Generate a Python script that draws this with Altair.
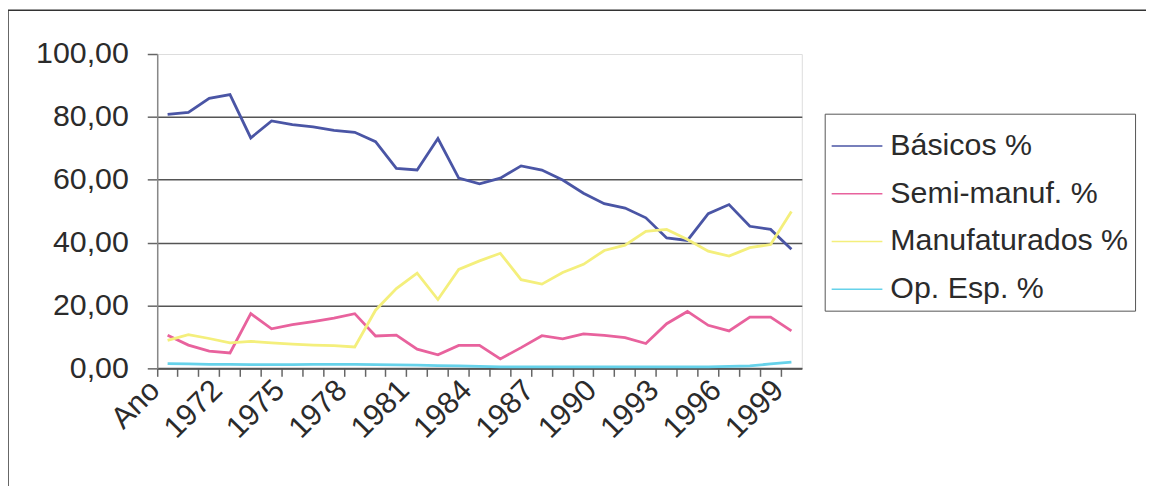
import altair as alt
import pandas as pd

categorias = ["Ano", "1970", "1971", "1972", "1973", "1974", "1975", "1976", "1977",
              "1978", "1979", "1980", "1981", "1982", "1983", "1984", "1985", "1986",
              "1987", "1988", "1989", "1990", "1991", "1992", "1993", "1994", "1995",
              "1996", "1997", "1998", "1999"]

basicos = [80.8, 81.4, 85.9, 87.1, 73.3, 78.7, 77.5, 76.8, 75.7, 75.1, 72.1, 63.6, 63.1,
           73.1, 60.5, 58.7, 60.5, 64.4, 63.1, 59.9, 55.7, 52.4, 51.0, 47.9, 41.5, 40.7,
           49.2, 52.1, 45.2, 44.2, 37.9]
semi = [10.5, 7.4, 5.5, 4.9, 17.4, 12.6, 13.9, 14.9, 16.0, 17.4, 10.3, 10.6, 6.1, 4.3,
        7.3, 7.3, 3.0, 6.6, 10.4, 9.4, 11.0, 10.5, 9.8, 7.9, 14.2, 18.1, 13.7, 11.9,
        16.3, 16.3, 11.9]
manuf = [8.9, 10.7, 9.5, 8.1, 8.6, 8.1, 7.7, 7.4, 7.2, 6.8, 18.5, 25.4, 30.3, 21.9, 31.5,
         34.2, 36.6, 28.2, 26.8, 30.5, 33.1, 37.5, 39.2, 43.6, 44.2, 41.0, 37.3, 35.7,
         38.4, 39.4, 49.9]
op_esp = [1.5, 1.4, 1.3, 1.3, 1.2, 1.2, 1.2, 1.3, 1.3, 1.3, 1.2, 1.1, 1.0, 0.9, 0.8, 0.6,
          0.5, 0.5, 0.5, 0.5, 0.5, 0.5, 0.5, 0.5, 0.5, 0.5, 0.5, 0.6, 0.8, 1.4, 2.0]

series_names = ["Básicos %", "Semi-manuf. %", "Manufaturados %", "Op. Esp. %"]
series_colors = ["#4a55a5", "#e8629d", "#f4ef7c", "#66d2ea"]
series_values = [basicos, semi, manuf, op_esp]

rows = []
for name, vals in zip(series_names, series_values):
    for c, v in zip(categorias, vals):
        rows.append({"cat": c, "serie": name, "valor": v})
df = pd.DataFrame(rows)

FONT = "Liberation Sans"
FS = 30.5
W, H = 648, 316
STEP = W / len(categorias)

lines = alt.Chart(df).mark_line(strokeWidth=2.8).encode(
    x=alt.X("cat:O", sort=categorias, title=None,
            scale=alt.Scale(type="band", paddingInner=0, paddingOuter=0),
            axis=alt.Axis(
                bandPosition=0,
                labelExpr="datum.value == 'Ano' || (toNumber(datum.value) - 1969) % 3 == 0 ? datum.value : ''",
                labelAngle=-45, labelAlign="right", labelBaseline="middle",
                labelOffset=STEP / 2 - 23, labelPadding=9,
                labelOverlap=False, labelFlush=False, labelBound=False,
                labelFont=FONT, labelFontSize=FS, labelColor="#2b2b2b",
                ticks=True, tickSize=8, tickColor="#666", tickWidth=1.5,
                domainColor="#555", domainWidth=2, grid=False)),
    y=alt.Y("valor:Q", title=None,
            scale=alt.Scale(domain=[0, 100], nice=False),
            axis=alt.Axis(
                values=[0, 20, 40, 60, 80, 100],
                labelExpr="replace(format(datum.value, '.2f'), '.', ',')",
                labelFont=FONT, labelFontSize=FS, labelColor="#2b2b2b",
                labelPadding=19, tickSize=10, tickColor="#666", tickWidth=1.5,
                domainColor="#888", domainWidth=1.5,
                grid=True,
                gridColor={"condition": {"test": "datum.value === 100", "value": "transparent"},
                           "value": "#555"},
                gridWidth=1.5)),
    color=alt.Color("serie:N", sort=series_names,
                    scale=alt.Scale(domain=series_names, range=series_colors),
                    legend=alt.Legend(
                        title=None, orient="none", legendX=671, legendY=60,
                        symbolType="stroke", symbolSize=2601, symbolStrokeWidth=1.5,
                        labelFont=FONT, labelFontSize=FS, labelColor="#2b2b2b",
                        labelLimit=0, labelOffset=7, rowPadding=6, padding=6,
                        strokeColor="#555", fillColor="white")),
)

frame_df = pd.DataFrame({"k": [0]})
frame_left = alt.Chart(frame_df).mark_rule(stroke="#333", strokeWidth=1.5).encode(
    x=alt.value(-150), y=alt.value(-44), y2=alt.value(600))
frame_top = alt.Chart(frame_df).mark_rule(stroke="#333", strokeWidth=1.5).encode(
    x=alt.value(-150), x2=alt.value(1200), y=alt.value(-44))

chart = alt.layer(lines, frame_left, frame_top).properties(
    width=W, height=H,
    autosize=alt.AutoSizeParams(type="none"),
    padding={"left": 150, "top": 45, "right": 346, "bottom": 117},
).configure_view(
    fill="#e6e4ec", stroke="#aaa", strokeDash=[2, 2], strokeWidth=1
).configure(background="white")

chart.save("out.html", embed_options={"renderer": "svg", "actions": False})
